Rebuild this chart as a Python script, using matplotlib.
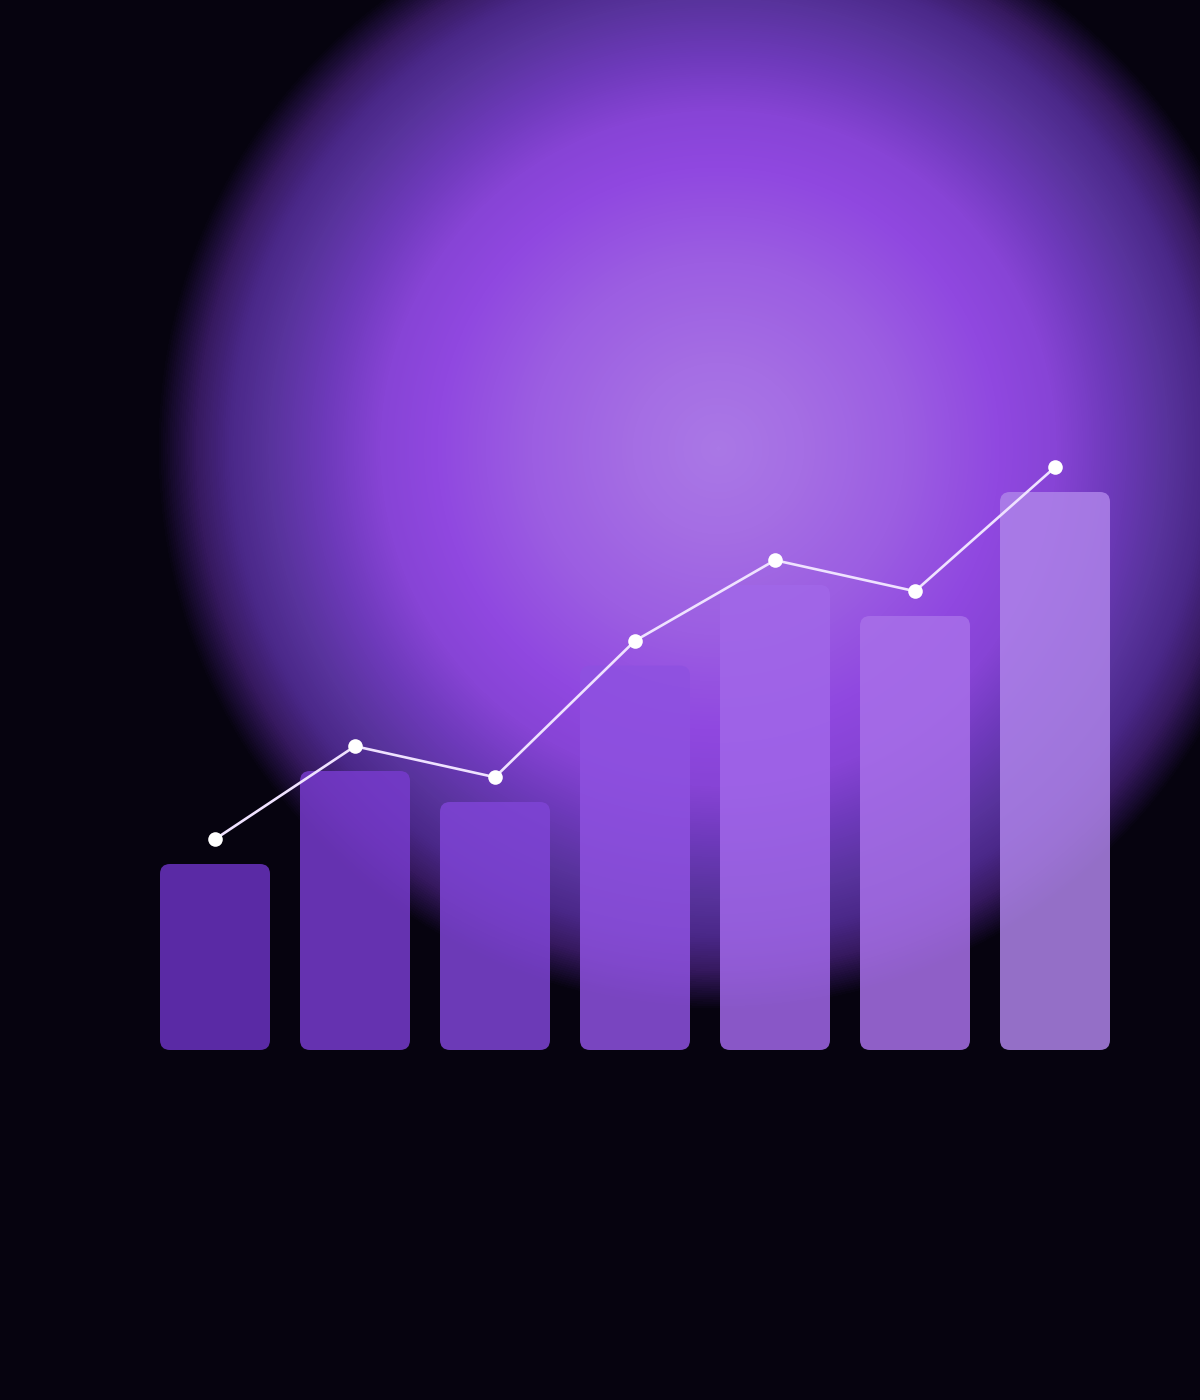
import numpy as np
import matplotlib
matplotlib.use("Agg")
import matplotlib.pyplot as plt
from matplotlib.colors import LinearSegmentedColormap
from matplotlib.patches import FancyBboxPatch

# ---- data ----
categories = ["1", "2", "3", "4", "5", "6", "7"]
bar_values = [6.0, 9.0, 8.0, 12.4, 15.0, 14.0, 18.0]
line_values = [6.8, 9.8, 8.8, 13.2, 15.8, 14.8, 18.8]

# ---- styles ----
bar_colors = ["#6a31c1", "#773bcd", "#7f44d6", "#8e51e0", "#a167e9", "#a870e9", "#ae83e9"]
BG = "#06030f"
W, H = 1200, 1400

fig = plt.figure(figsize=(W / 100, H / 100), dpi=100, facecolor=BG)

# background glow axes (pixel coordinates)
bg = fig.add_axes([0, 0, 1, 1])
bg.set_xlim(0, W)
bg.set_ylim(H, 0)
bg.axis("off")
yy, xx = np.mgrid[0:H, 0:W]
cx, cy, R = 718, 448, 562
r = np.sqrt((xx - cx) ** 2 + (yy - cy) ** 2) / R
stops = [
    (0.00, "#aa78e6"),
    (0.15, "#a56ee4"),
    (0.33, "#9c5ee2"),
    (0.50, "#9048e0"),
    (0.60, "#8744d6"),
    (0.70, "#6e3abb"),
    (0.80, "#58339c"),
    (0.87, "#4a2888"),
    (0.93, "#36195f"),
    (0.97, "#1a0c33"),
    (1.00, BG),
]
cmap = LinearSegmentedColormap.from_list("glow", stops)
img = cmap(np.clip(r, 0, 1))
bg.imshow(img, extent=(0, W, H, 0), interpolation="bilinear", zorder=0)

# chart axes covering the full figure
ax = fig.add_axes([0, 0, 1, 1])
ax.patch.set_alpha(0)
px_per_x = 140.0
px_per_y = 31.0
x0_px = 215.0
base_px_from_bottom = 350.0
ax.set_xlim(-x0_px / px_per_x, (W - x0_px) / px_per_x)
ax.set_ylim(-base_px_from_bottom / px_per_y, (H - base_px_from_bottom) / px_per_y)
ax.axis("off")

x = np.arange(len(categories))
bar_w = 110 / px_per_x
bars = ax.bar(x, bar_values, width=bar_w, color=bar_colors, alpha=0)
aspect = px_per_x / px_per_y
for rect, c in zip(bars.patches, bar_colors):
    rb = FancyBboxPatch(
        (rect.get_x(), rect.get_y()), rect.get_width(), rect.get_height(),
        boxstyle="round,pad=0,rounding_size=%f" % (10 / px_per_x),
        mutation_aspect=aspect,
        facecolor=c, edgecolor="none", alpha=0.85, zorder=2,
    )
    ax.add_patch(rb)

ax.plot(x, line_values, color="#efe2ff", linewidth=1.9, zorder=3,
        solid_capstyle="round")
ax.plot(x, line_values, linestyle="none", marker="o", markersize=10.5,
        markerfacecolor="#ffffff", markeredgecolor="none", zorder=4)

fig.savefig("out.png", dpi=100, facecolor=BG)
